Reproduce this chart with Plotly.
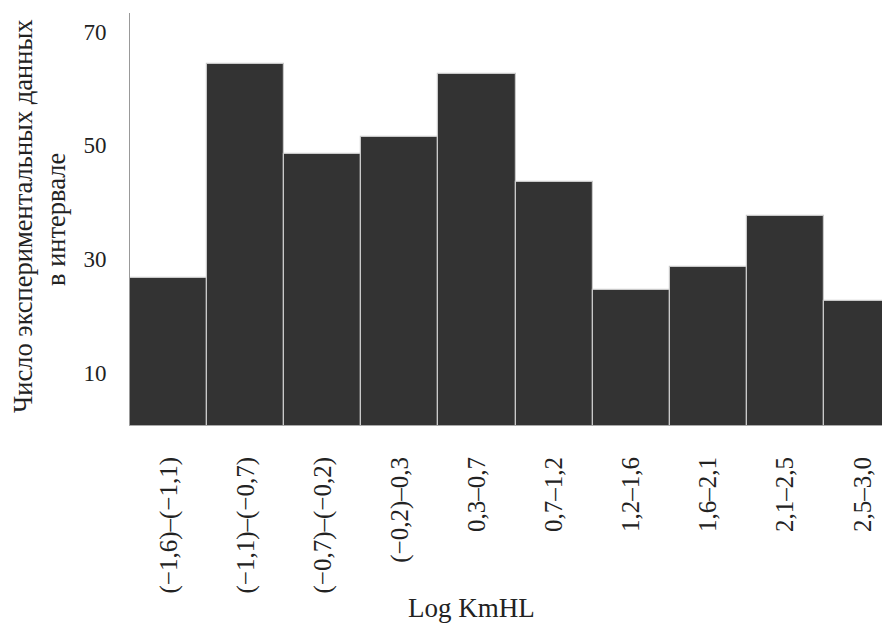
import plotly.graph_objects as go

categories = ["(−1,6)–(−1,1)", "(−1,1)–(−0,7)", "(−0,7)–(−0,2)", "(−0,2)–0,3",
              "0,3–0,7", "0,7–1,2", "1,2–1,6", "1,6–2,1", "2,1–2,5", "2,5–3,0"]
counts = [26.6, 64.3, 48.5, 51.5, 62.6, 43.5, 24.5, 28.6, 37.6, 22.7]
y_ticks = [10, 30, 50, 70]

FONT = "Liberation Serif"
OFF = 8  # page body margin
# target plot area in screenshot pixels: x 130..901, y 13..425
W, H = 901 - OFF, 626 - OFF
L, T = 130 - OFF, 13 - OFF
R = 0
B = H - (425 - OFF)
PW, PH = W - L - R, H - T - B


def px_x(x):
    return (x - OFF - L) / PW


def px_y(y):
    return (H - B - (y - OFF)) / PH


fig = go.Figure(go.Bar(
    x=categories, y=counts,
    marker=dict(color="#333333", line=dict(color="#c9c9c9", width=1.2)),
))

fig.update_layout(
    width=W, height=H,
    margin=dict(l=L, r=R, t=T, b=B, autoexpand=False),
    plot_bgcolor="white", paper_bgcolor="white",
    bargap=0, showlegend=False,
    font=dict(family=FONT, color="#222222"),
    xaxis=dict(
        tickangle=-90, tickfont=dict(size=25, family=FONT, color="#222222"),
        showline=True, linecolor="#aaaaaa", linewidth=1,
        ticks="", ticklabelstandoff=21, showgrid=False,
    ),
    yaxis=dict(
        range=[0.8, 73.3], tickvals=y_ticks,
        tickfont=dict(size=23, family=FONT, color="#222222"),
        showline=True, linecolor="#999999", linewidth=1,
        ticks="", ticklabelstandoff=18, showgrid=False, zeroline=False,
    ),
    annotations=[
        dict(text="Число экспериментальных данных",
             xref="paper", yref="paper", x=px_x(23), y=px_y(217),
             xanchor="center", yanchor="middle", textangle=-90, showarrow=False,
             font=dict(size=26.5, family=FONT, color="#222222")),
        dict(text="в интервале",
             xref="paper", yref="paper", x=px_x(56), y=px_y(220),
             xanchor="center", yanchor="middle", textangle=-90, showarrow=False,
             font=dict(size=26.5, family=FONT, color="#222222")),
        dict(text="Log KmHL", xref="paper", yref="paper",
             x=px_x(471), y=px_y(608),
             xanchor="center", yanchor="middle", showarrow=False,
             font=dict(size=27, family=FONT, color="#222222")),
    ],
)

fig.write_html("out.html")
